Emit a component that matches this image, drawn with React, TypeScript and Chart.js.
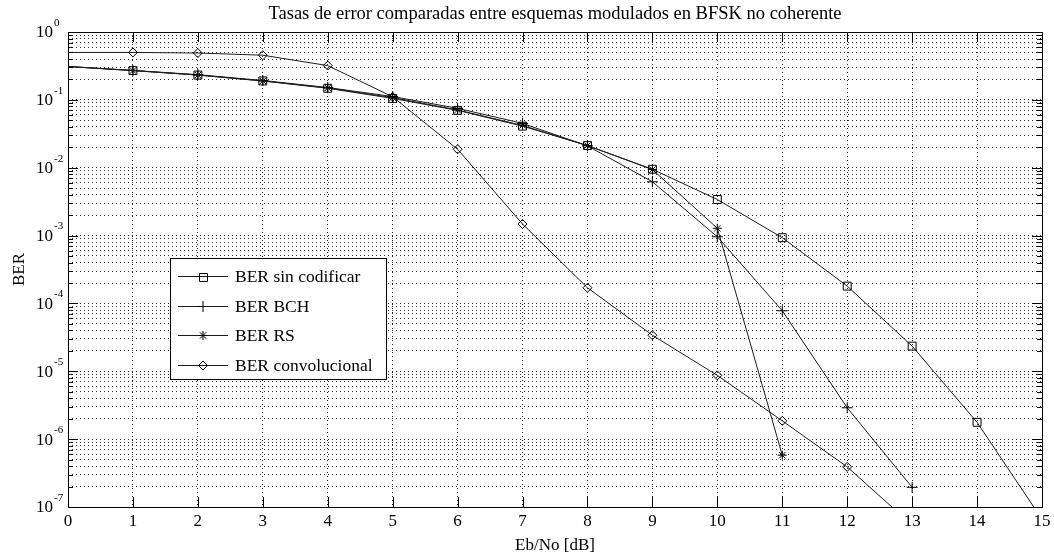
import React, { useEffect, useRef } from "react";
import { Chart, registerables } from "chart.js";

Chart.register(...registerables);

// Eb/No values in dB
const ebNo = [0, 1, 2, 3, 4, 5, 6, 7, 8, 9, 10, 11, 12, 13, 14, 15];

// Bit error rates per scheme (index matches ebNo)
const berUncoded = [0.31, 0.27, 0.232, 0.19, 0.148, 0.105, 0.07, 0.041, 0.0212, 0.0095, 0.0034, 9.3e-4, 1.8e-4, 2.35e-5, 1.77e-6, 6.6e-8];
const berBch = [0.31, 0.272, 0.235, 0.193, 0.152, 0.112, 0.075, 0.045, 0.021, 0.0062, 9.6e-4, 7.8e-5, 2.9e-6, 1.95e-7];
const berRs = [0.31, 0.27, 0.232, 0.19, 0.15, 0.108, 0.071, 0.042, 0.0212, 0.0094, 1.28e-3, 5.8e-7];
const berConv = [0.5, 0.5, 0.49, 0.455, 0.32, 0.111, 0.0187, 1.48e-3, 1.7e-4, 3.4e-5, 8.7e-6, 1.86e-6, 3.9e-7, 5.4e-8];

const seriesNames = ["BER sin codificar", "BER BCH", "BER RS", "BER convolucional"];
const seriesMarkers = ["square", "plus", "star", "diamond"];

const xTickValues = [0, 1, 2, 3, 4, 5, 6, 7, 8, 9, 10, 11, 12, 13, 14, 15];
const yDecades = [-7, -6, -5, -4, -3, -2, -1, 0];

const titleText = "Tasas de error comparadas entre esquemas modulados en BFSK no coherente";
const xTitle = "Eb/No [dB]";
const yTitle = "BER";

const SERIF = '"Liberation Serif", "Times New Roman", serif';
const INK = "#000";
const LINE = "#1c1c1c";
const GRID = "#2a2a2a";

const pointStyles: Record<string, { style: string; radius: number }> = {
  square: { style: "rect", radius: 5.6 },
  plus: { style: "cross", radius: 5.5 },
  star: { style: "star", radius: 4.5 },
  diamond: { style: "rectRot", radius: 4.5 },
};

function toPoints(ys: number[]) {
  return ys.map((y, i) => ({ x: ebNo[i], y }));
}

// Tick positions of the log axis: 1..9 within every decade
function logTickValues() {
  const out: { value: number; major: boolean }[] = [];
  for (let i = 0; i < yDecades.length; i++) {
    const e = yDecades[i];
    out.push({ value: Math.pow(10, e), major: true });
    if (e < 0) {
      for (let k = 2; k <= 9; k++) out.push({ value: k * Math.pow(10, e), major: false });
    }
  }
  return out;
}

function drawMarker(ctx: CanvasRenderingContext2D, kind: string, x: number, y: number) {
  ctx.save();
  ctx.strokeStyle = INK;
  ctx.lineWidth = 1;
  ctx.beginPath();
  if (kind === "square") {
    const s = 4;
    ctx.rect(Math.round(x) - s + 0.5, Math.round(y) - s + 0.5, 2 * s, 2 * s);
  } else if (kind === "plus") {
    ctx.moveTo(x - 5.5, y);
    ctx.lineTo(x + 5.5, y);
    ctx.moveTo(x, y - 5.5);
    ctx.lineTo(x, y + 5.5);
  } else if (kind === "star") {
    const r = 4.5;
    for (let a = 0; a < 4; a++) {
      const ang = (a * Math.PI) / 4;
      ctx.moveTo(x - Math.cos(ang) * r, y - Math.sin(ang) * r);
      ctx.lineTo(x + Math.cos(ang) * r, y + Math.sin(ang) * r);
    }
  } else {
    const r = 4.5;
    ctx.moveTo(x, y - r);
    ctx.lineTo(x + r, y);
    ctx.lineTo(x, y + r);
    ctx.lineTo(x - r, y);
    ctx.closePath();
  }
  ctx.stroke();
  ctx.restore();
}

const decorPlugin = {
  id: "matlabDecor",
  afterDraw(chart: any) {
    const ctx: CanvasRenderingContext2D = chart.ctx;
    const area = chart.chartArea;
    const xs = chart.scales.x;
    const ys = chart.scales.y;
    ctx.save();

    // inner tick marks
    ctx.strokeStyle = INK;
    ctx.lineWidth = 1;
    ctx.beginPath();
    for (const v of xTickValues) {
      const px = Math.round(xs.getPixelForValue(v)) + 0.5;
      ctx.moveTo(px, area.bottom);
      ctx.lineTo(px, area.bottom - 10);
      ctx.moveTo(px, area.top);
      ctx.lineTo(px, area.top + 10);
    }
    for (const t of logTickValues()) {
      const py = Math.round(ys.getPixelForValue(t.value)) + 0.5;
      const len = t.major ? 10 : 5;
      ctx.moveTo(area.left, py);
      ctx.lineTo(area.left + len, py);
      ctx.moveTo(area.right, py);
      ctx.lineTo(area.right - len, py);
    }
    ctx.stroke();

    // axes box
    ctx.strokeRect(Math.round(area.left) + 0.5, Math.round(area.top) + 0.5, Math.round(area.right - area.left), Math.round(area.bottom - area.top));

    // x tick labels
    ctx.fillStyle = INK;
    ctx.font = `17px ${SERIF}`;
    ctx.textAlign = "center";
    ctx.textBaseline = "middle";
    for (const v of xTickValues) {
      ctx.fillText(String(v), xs.getPixelForValue(v), area.bottom + 15);
    }

    // y tick labels: 10 with a raised exponent
    for (const e of yDecades) {
      const py = ys.getPixelForValue(Math.pow(10, e));
      ctx.font = `17px ${SERIF}`;
      ctx.textAlign = "right";
      ctx.textBaseline = "middle";
      ctx.fillText("10", area.left - 15, py + 1);
      ctx.font = `11px ${SERIF}`;
      ctx.textAlign = "left";
      ctx.fillText(String(e), area.left - 14, py - 9);
    }

    // title and axis titles
    const cx = (area.left + area.right) / 2;
    ctx.font = `18.5px ${SERIF}`;
    ctx.textAlign = "center";
    ctx.textBaseline = "alphabetic";
    ctx.fillText(titleText, cx, 19);
    ctx.font = `17px ${SERIF}`;
    ctx.fillText(xTitle, cx, 550);
    ctx.save();
    ctx.translate(24, (area.top + area.bottom) / 2);
    ctx.rotate(-Math.PI / 2);
    ctx.fillText(yTitle, 0, 0);
    ctx.restore();

    // legend box
    const lx = 170, ly = 258, lw = 216, lh = 121;
    ctx.fillStyle = "#fff";
    ctx.fillRect(lx, ly, lw, lh);
    ctx.strokeStyle = INK;
    ctx.strokeRect(lx + 0.5, ly + 0.5, lw, lh);
    ctx.font = `17.5px ${SERIF}`;
    ctx.textAlign = "left";
    ctx.textBaseline = "middle";
    for (let i = 0; i < seriesNames.length; i++) {
      const ry = Math.round(ly + 18 + i * 29.7) + 0.5;
      ctx.strokeStyle = LINE;
      ctx.beginPath();
      ctx.moveTo(lx + 8, ry);
      ctx.lineTo(lx + 58, ry);
      ctx.stroke();
      drawMarker(ctx, seriesMarkers[i], lx + 33, ry);
      ctx.fillStyle = INK;
      ctx.fillText(seriesNames[i], lx + 65, ry + 1);
    }
    ctx.restore();
  },
};

export default function App() {
  const canvasRef = useRef<HTMLCanvasElement | null>(null);

  useEffect(() => {
    const canvas = canvasRef.current;
    if (!canvas) return;
    const seriesData = [berUncoded, berBch, berRs, berConv];
    const datasets = seriesData.map((ys, i) => {
      const m = pointStyles[seriesMarkers[i]];
      return {
        label: seriesNames[i],
        data: toPoints(ys),
        borderColor: LINE,
        borderWidth: 1,
        backgroundColor: "rgba(0,0,0,0)",
        pointStyle: m.style,
        pointRadius: ys.map((_, k) => (k === 0 ? 0 : m.radius)),
        pointBorderColor: INK,
        pointBorderWidth: 1,
        pointBackgroundColor: "rgba(0,0,0,0)",
        tension: 0,
        fill: false,
      };
    });

    const chart = new Chart(canvas, {
      type: "line",
      data: { datasets },
      options: {
        animation: false,
        responsive: false,
        devicePixelRatio: 1,
        layout: { padding: { left: 68, right: 12, top: 32, bottom: 47 } },
        plugins: {
          legend: { display: false },
          tooltip: { enabled: false },
          title: { display: false },
        },
        scales: {
          x: {
            type: "linear",
            min: 0,
            max: 15,
            ticks: { stepSize: 1, display: false },
            grid: { color: GRID, lineWidth: 1, drawTicks: false },
            border: { display: false, dash: [1, 3] },
            afterFit: (s: any) => {
              s.height = 0;
            },
          },
          y: {
            type: "logarithmic",
            min: 1e-7,
            max: 1,
            ticks: { display: false },
            afterBuildTicks: (s: any) => {
              s.ticks = logTickValues();
            },
            grid: { color: GRID, lineWidth: 1, drawTicks: false },
            border: { display: false, dash: [1, 3] },
            afterFit: (s: any) => {
              s.width = 0;
            },
          },
        },
      } as any,
      plugins: [decorPlugin],
    });
    return () => chart.destroy();
  }, []);

  return (
    <div style={{ position: "fixed", left: 0, top: 0, width: 1054, height: 554, background: "#fff" }}>
      <canvas ref={canvasRef} width={1054} height={554} />
    </div>
  );
}
